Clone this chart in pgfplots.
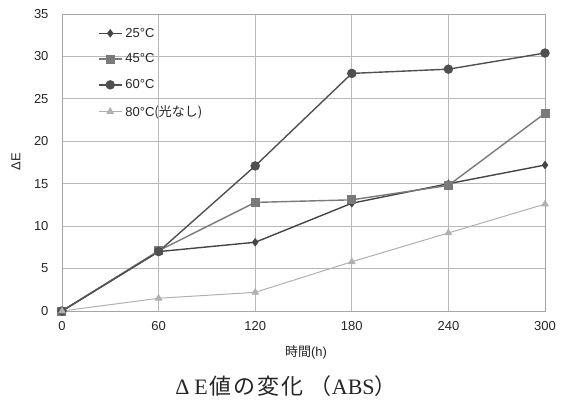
\documentclass[border=0pt]{standalone}
\usepackage{pgfplots}
\pgfplotsset{compat=1.18}
\usepackage{fontspec}
\setmainfont{Liberation Sans}
\newfontfamily\cjk{Noto Sans CJK JP}
\newfontfamily\serif{Liberation Serif}
\definecolor{cA}{HTML}{454545}
\definecolor{cB}{HTML}{7A7A7A}
\definecolor{cC}{HTML}{505050}
\definecolor{cD}{HTML}{B0B0B0}
\begin{document}
\begin{tikzpicture}
\begin{axis}[
  scale only axis, width=483pt, height=297pt,
  xmin=0, xmax=300, ymin=0, ymax=35,
  xtick={0,60,120,180,240,300},
  ytick={0,5,10,15,20,25,30,35},
  grid=major,
  major grid style={draw=gray!55, line width=0.8pt},
  axis line style={draw=gray!70, line width=0.8pt},
  tick style={draw=none},
  font=\fontsize{13}{15}\selectfont,
  /pgf/number format/assume math mode=true,
  tick label style={text=black!85},
  xticklabel style={yshift=-7pt},
  yticklabel style={xshift=-10pt},
  clip=false,
  legend image code/.code={
    \draw[mark repeat=2, mark phase=2] plot coordinates {(0pt,0pt) (11.5pt,0pt) (23pt,0pt)};},
  legend style={draw=none, fill=none, at={(0.068,0.967)}, anchor=north west,
    font=\fontsize{13}{15}\selectfont, row sep=11.2pt, text=black!85,
    /tikz/every odd column/.append style={column sep=1pt}},
  legend cell align=left,
]
\addplot[color=cA, line width=1.4pt, mark=diamond*, mark size=3.2pt]
  coordinates {(0,0) (60,7.0) (120,8.1) (180,12.7) (240,15.0) (300,17.2)};
\addlegendentry{25°C}
\addplot[color=cB, line width=1.4pt, mark=square*, mark size=3.8pt]
  coordinates {(0,0) (60,7.1) (120,12.8) (180,13.1) (240,14.8) (300,23.3)};
\addlegendentry{45°C}
\addplot[color=cC, line width=1.4pt, mark=*, mark size=4pt]
  coordinates {(0,0) (60,7.0) (120,17.1) (180,28.0) (240,28.5) (300,30.4)};
\addlegendentry{60°C}
\addplot[color=cD, line width=1.0pt, mark=triangle*, mark size=3.5pt]
  coordinates {(0,0) (60,1.5) (120,2.2) (180,5.8) (240,9.2) (300,12.6)};
\addlegendentry{80°C{\cjk (光なし)}}
\end{axis}
\node[rotate=90, font=\fontsize{13}{15}\selectfont, text=black!85] at (-46pt,149pt) {ΔE};
\node[font=\fontsize{13}{15}\selectfont, text=black!85] at (244pt,-41pt) {{\cjk 時間}(h)};
\node[font=\fontsize{22}{26}\selectfont, text=black!85] at (224pt,-75pt)
  {{\serif Δ\hspace{5pt}E}\hspace{2pt}{\cjk 値\hspace{2pt}の\hspace{2pt}変\hspace{2pt}化}\hspace{6pt}{\cjk （}{\serif ABS}{\cjk ）}};
\path[use as bounding box] (-62pt,-94pt) rectangle (500pt,311pt);
\end{tikzpicture}
\end{document}
